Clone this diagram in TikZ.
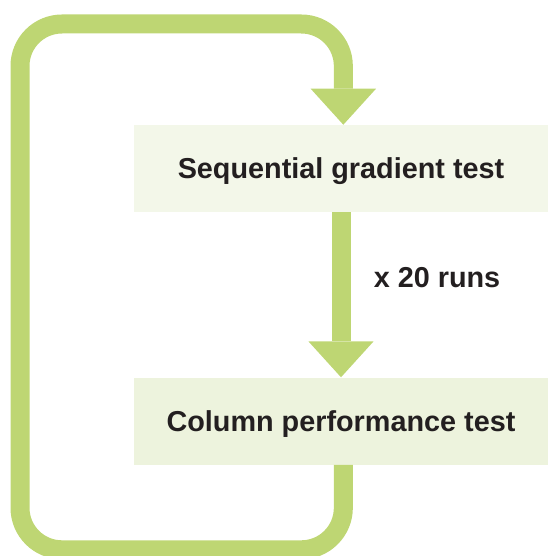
\documentclass[tikz,border=0pt]{standalone}
\usepackage{fontspec}
\setmainfont{Liberation Sans}
\usetikzlibrary{arrows.meta}
\usetikzlibrary{positioning}
\definecolor{loopgreen}{HTML}{BED673}
\definecolor{boxtop}{HTML}{F3F7E9}
\definecolor{boxbottom}{HTML}{EDF3DD}
\definecolor{inkdark}{HTML}{231F20}
\tikzset{
    testbox/.style={minimum width=310.5pt,minimum height=65.25pt,inner sep=0pt,
        text height=15.5pt,text depth=0pt,
        text=inkdark,font=\fontsize{21.6}{26}\selectfont\bfseries},
    greenflow/.style={draw=loopgreen,line width=14.25pt,
        -{Triangle[length=27pt,width=49pt,line width=0pt]}},
}

\begin{document}
\begin{tikzpicture}[x=0.75pt,y=0.75pt,yscale=-1,xscale=1]
\useasboundingbox (0,0) rectangle (548,556);

% Boxes
\node [testbox,fill=boxtop] (seqtest) at (341,168.5) {Sequential gradient test};
\node [testbox,fill=boxbottom,below=123.75pt of seqtest] (coltest) {Column performance test};

% Main arrow
\draw [greenflow] (seqtest.south) -- (coltest.north);
% Text Node
\node [text=inkdark,font=\fontsize{21.6}{26}\selectfont\bfseries] (runs) at (437,278) {x 20 runs};

% Loop back
\draw [greenflow,rounded corners=31.5pt] ([xshift=1.75pt]coltest.south) -- ++(0,85) -| (20,24) -| ([xshift=1.75pt]seqtest.north);

\end{tikzpicture}
\end{document}
